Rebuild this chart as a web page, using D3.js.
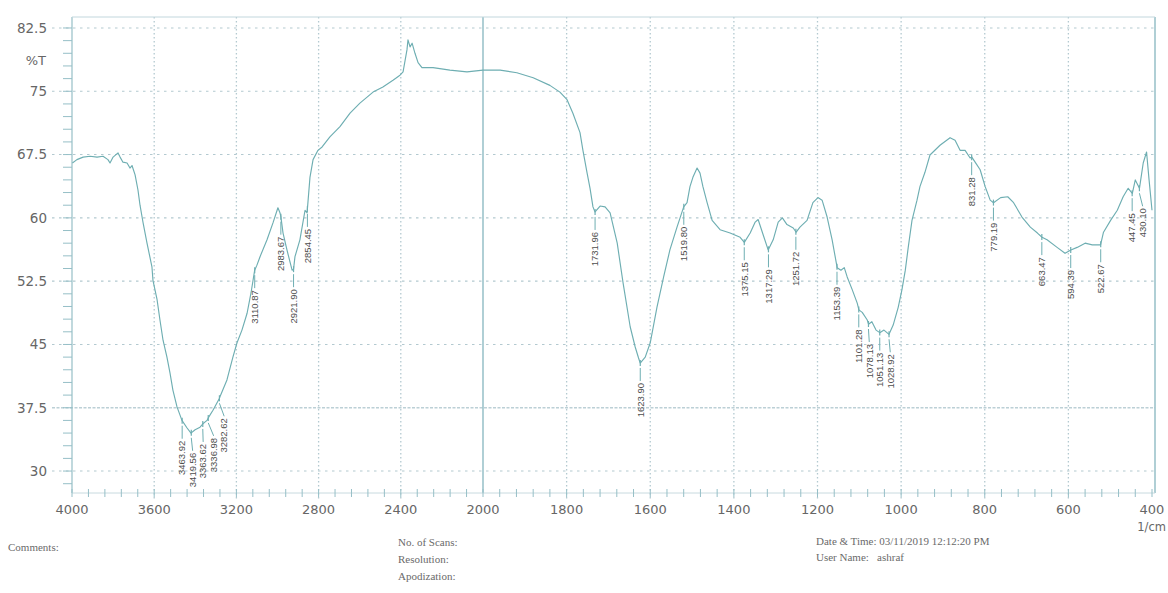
<!DOCTYPE html>
<html><head><meta charset="utf-8">
<script src="https://cdn.jsdelivr.net/npm/d3@7"></script>
<style>body{margin:0;background:#fff;} svg{display:block;}</style>
</head><body>
<svg id="chart" width="1168" height="593"></svg>
<script>
// ---- data ----
const wavenumbers = [3998,3976,3946,3912,3878,3849,3825,3815,3800,3776,3766,3752,3732,3718,3708,3693,3679,3669,3659,3654,3635,3611,3606,3586,3572,3557,3538,3523,3509,3489,3465,3440,3421,3401,3377,3363,3343,3337,3314,3283,3280,3246,3217,3197,3173,3148,3129,3111,3100,3085,3051,3022,2998,2988,2984,2973,2954,2929,2922,2915,2891,2866,2856,2842,2827,2803,2783,2745,2696,2647,2599,2535,2487,2438,2404,2389,2370,2365,2355,2345,2331,2316,2297,2243,2161,2078,2000,1959,1919,1880,1840,1816,1799,1785,1768,1761,1751,1744,1737,1732,1720,1708,1696,1679,1665,1648,1636,1628,1624,1612,1600,1584,1568,1553,1536,1520,1512,1505,1498,1488,1481,1474,1464,1452,1433,1409,1385,1375,1361,1349,1342,1330,1318,1306,1294,1284,1273,1258,1251,1242,1225,1211,1199,1189,1177,1165,1153,1144,1136,1129,1117,1105,1101,1093,1081,1078,1070,1060,1051,1041,1029,1019,1007,998,990,983,974,962,955,943,931,907,883,871,859,847,835,831,823,811,799,787,779,762,745,731,711,691,674,663,651,627,608,594,579,560,543,523,516,499,483,469,457,447,440,430,421,413,407,400];
const transmittance = [66.5,66.9,67.2,67.3,67.2,67.3,66.9,66.5,67.2,67.7,67.2,66.6,66.5,65.9,66.2,65.1,63.3,61.5,60.1,59.4,57.0,54.2,52.6,50.3,47.9,45.5,43.5,41.6,39.6,37.6,36.0,35.1,34.5,34.9,35.2,35.6,36.0,36.3,37.2,38.6,38.8,40.8,43.5,45.2,46.7,48.7,51.1,53.8,54.4,55.4,57.4,59.4,61.2,60.6,60.2,58.2,56.2,53.8,53.9,55.4,57.4,60.9,60.6,64.8,66.9,68.0,68.4,69.6,70.8,72.4,73.6,74.9,75.5,76.3,76.9,77.3,79.9,81.1,80.25,80.7,79.5,78.4,77.8,77.8,77.5,77.3,77.5,77.5,77.2,76.6,75.7,74.9,74.0,72.4,70.1,68.0,65.3,63.5,61.3,60.7,61.4,61.3,60.6,57.0,52.3,47.1,44.7,43.4,42.8,43.5,45.2,49.4,53.0,56.2,58.9,61.3,61.8,63.7,64.8,65.9,65.3,63.7,61.8,59.7,58.6,58.2,57.7,57.1,58.2,59.5,59.8,58.0,56.2,57.4,59.5,60.0,59.2,58.8,58.3,58.9,59.7,61.8,62.4,62.1,60.1,57.4,54.1,53.8,54.1,53.0,51.5,49.9,49.1,48.8,47.9,47.4,47.7,46.7,46.4,46.7,46.2,47.3,49.4,51.5,53.8,56.5,59.7,62.1,63.7,65.4,67.45,68.6,69.5,69.2,68.0,68.0,67.1,67.2,66.6,65.7,63.7,62.1,61.8,62.4,62.5,61.8,60.1,58.9,58.2,57.7,57.4,56.5,55.8,56.2,56.5,57.0,56.8,56.8,58.3,59.7,60.9,62.5,63.5,62.9,64.5,63.5,66.5,67.8,64.5,60.9];
const peakWavenumbers = [3463.92,3419.56,3363.62,3336.98,3282.62,3110.87,2983.67,2921.90,2854.45,1731.96,1623.90,1519.80,1375.15,1317.29,1251.72,1153.39,1101.28,1078.13,1051.13,1028.92,831.28,779.19,663.47,594.39,522.67,447.45,430.10];
const peakLabels = ["3463.92","3419.56","3363.62","3336.98","3282.62","3110.87","2983.67","2921.90","2854.45","1731.96","1623.90","1519.80","1375.15","1317.29","1251.72","1153.39","1101.28","1078.13","1051.13","1028.92","831.28","779.19","663.47","594.39","522.67","447.45","430.10"];
const xTicks = [4000,3600,3200,2800,2400,2000,1800,1600,1400,1200,1000,800,600,400];
const xTickLabels = ["4000","3600","3200","2800","2400","2000","1800","1600","1400","1200","1000","800","600","400"];
const yTicks = [30,37.5,45,52.5,60,67.5,75,82.5];
const yTickLabels = ["30","37.5","45","52.5","60","67.5","75","82.5"];

(function () {
const svg = d3.select("#chart");
const x = d3.scaleLinear().domain([4000,2000,400]).range([72,483,1152]);
const y = d3.scaleLinear().domain([27.4,83.8]).range([493,17]);
const pLeft = 72, pRight = 1155, pTop = 17, pBottom = 493;

const gridCol = "#b3c9d0", frameCol = "#96bfc7", lineCol = "#6eaeb2", textCol = "#666666";

const g = svg.append("g");
g.selectAll(".hgrid").data(yTicks).join("line")
  .attr("x1", 52).attr("x2", pRight)
  .attr("y1", d => y(d)).attr("y2", d => y(d))
  .attr("stroke", d => d === 37.5 ? "#bcd0d6" : gridCol)
  .attr("stroke-width", d => d === 37.5 ? 1.6 : 1.1)
  .attr("stroke-dasharray", d => d === 37.5 ? "3,1.5" : "2.5,4.5");
g.selectAll(".vgrid").data(xTicks.filter(d => d !== 2000 && d !== 4000 && d !== 400)).join("line")
  .attr("x1", d => x(d)).attr("x2", d => x(d))
  .attr("y1", pTop).attr("y2", 499)
  .attr("stroke", gridCol).attr("stroke-width", 1.3)
  .attr("stroke-dasharray", "1.5,2.5");
g.append("line").attr("x1", x(2000)).attr("x2", x(2000)).attr("y1", pTop).attr("y2", pBottom)
  .attr("stroke", "#8ebbc3").attr("stroke-width", 1.4);

g.append("line").attr("x1", pLeft).attr("x2", pLeft).attr("y1", pTop).attr("y2", pBottom).attr("stroke", frameCol).attr("stroke-width", 1.2);
g.append("line").attr("x1", pRight).attr("x2", pRight).attr("y1", pTop).attr("y2", pBottom).attr("stroke", frameCol).attr("stroke-width", 1.5);
g.append("line").attr("x1", pLeft).attr("x2", pRight).attr("y1", pTop).attr("y2", pTop).attr("stroke", "#c2d7dd").attr("stroke-width", 1);
g.append("line").attr("x1", pLeft).attr("x2", pRight).attr("y1", pBottom).attr("y2", pBottom).attr("stroke", "#c8dadf").attr("stroke-width", 1);

const yMinor = d3.range(28.5, 83.8, 1.5);
g.selectAll(".ymin").data(yMinor).join("line")
  .attr("x1", 63).attr("x2", pLeft).attr("y1", d => y(d)).attr("y2", d => y(d))
  .attr("stroke", frameCol).attr("stroke-width", 1);
const xMinor = d3.range(4000, 2000, -80).concat(d3.range(2000, 399, -40));
g.selectAll(".xmin").data(xMinor).join("line")
  .attr("x1", d => x(d)).attr("x2", d => x(d)).attr("y1", pBottom - 4).attr("y2", pBottom + 4)
  .attr("stroke", frameCol).attr("stroke-width", 1);

svg.selectAll(".ylab").data(yTicks).join("text")
  .attr("x", 47).attr("y", d => y(d)).attr("dy", "0.36em")
  .attr("text-anchor", "end").attr("font-family", "DejaVu Sans, sans-serif")
  .attr("font-size", 13.5).attr("fill", textCol)
  .text((d, i) => yTickLabels[i]);
svg.append("text").attr("x", 46).attr("y", 60).attr("dy", "0.36em").attr("text-anchor", "end")
  .attr("font-family", "DejaVu Sans, sans-serif").attr("font-size", 13).attr("fill", textCol).text("%T");
svg.selectAll(".xlab").data(xTicks).join("text")
  .attr("x", d => x(d)).attr("y", 514)
  .attr("text-anchor", "middle").attr("font-family", "DejaVu Sans, sans-serif")
  .attr("font-size", 13).attr("fill", textCol)
  .text((d, i) => xTickLabels[i]);
svg.append("text").attr("x", 1166).attr("y", 531).attr("text-anchor", "end")
  .attr("font-family", "DejaVu Sans, sans-serif").attr("font-size", 11.5).attr("fill", textCol).text("1/cm");

const pts = wavenumbers.map((w, i) => [w, transmittance[i]]);
svg.append("path").datum(pts)
  .attr("d", d3.line().x(d => x(d[0])).y(d => y(d[1])))
  .attr("fill", "none").attr("stroke", lineCol).attr("stroke-width", 1.15).attr("stroke-linejoin", "round");

function tAt(w) {
  for (let i = 0; i < wavenumbers.length - 1; i++) {
    const a = wavenumbers[i], b = wavenumbers[i + 1];
    if (w <= a && w >= b) {
      const t = (a - w) / (a - b);
      return transmittance[i] + t * (transmittance[i + 1] - transmittance[i]);
    }
  }
  return transmittance[transmittance.length - 1];
}
const peaks = peakWavenumbers.map((w, i) => ({ w, label: peakLabels[i], px: x(w), py: y(tAt(w)) }))
  .sort((a, b) => a.px - b.px);
let prev = -1e9;
peaks.forEach(p => { p.lx = Math.max(p.px, prev + 10.5); prev = p.lx; });
const pg = svg.append("g");
peaks.forEach(p => {
  const t0 = p.py + 20;
  pg.append("line").attr("x1", p.px).attr("x2", p.px).attr("y1", p.py - 3).attr("y2", p.py + 3)
    .attr("stroke", lineCol).attr("stroke-width", 1.2);
  pg.append("line").attr("x1", p.px).attr("y1", p.py + 5).attr("x2", p.lx).attr("y2", t0 - 2)
    .attr("stroke", lineCol).attr("stroke-width", 1);
  pg.append("text").attr("transform", `translate(${p.lx},${t0}) rotate(-90)`)
    .attr("text-anchor", "end").attr("dy", "0.35em")
    .attr("font-family", "Liberation Sans, Arial, sans-serif").attr("font-size", 9.5)
    .attr("fill", "#4e4e4e").text(p.label);
});

const serif = "Liberation Serif, Times New Roman, serif";
const foot = [
  ["Comments:", 8, 551],
  ["No. of Scans:", 398, 546],
  ["Resolution:", 398, 563],
  ["Apodization:", 398, 580],
  ["Date & Time: 03/11/2019 12:12:20 PM", 816, 545],
  ["User Name:   ashraf", 816, 561]
];
svg.selectAll(".foot").data(foot).join("text")
  .attr("x", d => d[1]).attr("y", d => d[2])
  .attr("font-family", serif).attr("font-size", 11).attr("fill", "#6a6a6a")
  .style("white-space", "pre")
  .text(d => d[0]);
})();
</script>
</body></html>
